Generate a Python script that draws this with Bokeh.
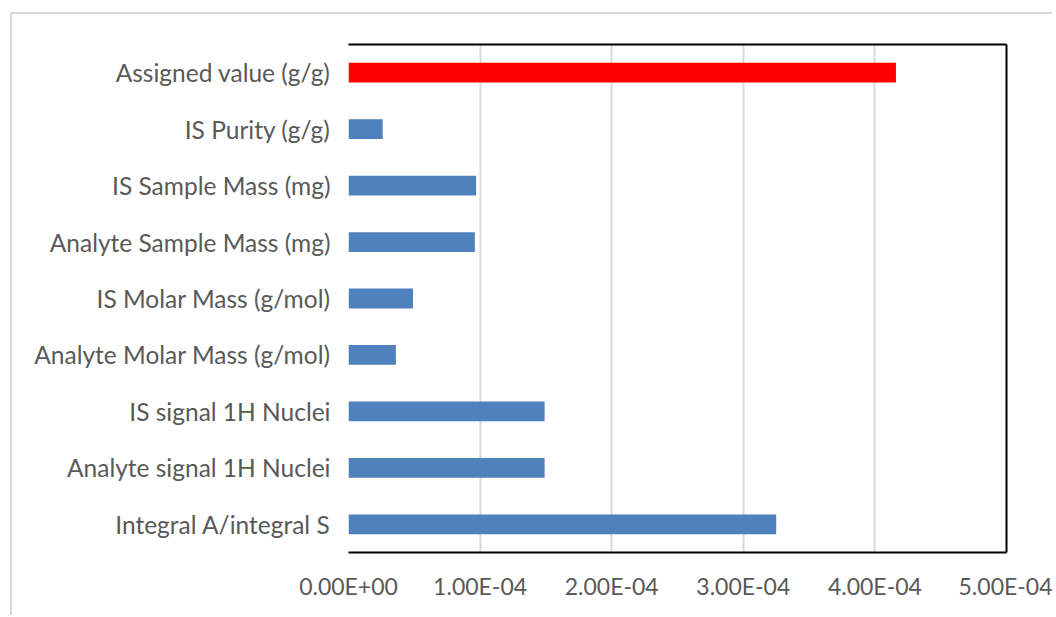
from bokeh.plotting import figure
from bokeh.models import FactorRange, FixedTicker, LinearAxis, CategoricalAxis, ColumnDataSource
from bokeh.embed import file_html
from bokeh.resources import INLINE

# Data (top to bottom as in the chart)
categories = [
    "Assigned value (g/g)",
    "IS Purity (g/g)",
    "IS Sample Mass (mg)",
    "Analyte Sample Mass (mg)",
    "IS Molar Mass (g/mol)",
    "Analyte Molar Mass (g/mol)",
    "IS signal 1H Nuclei",
    "Analyte signal 1H Nuclei",
    "Integral A/integral S",
]
values = [4.16e-4, 2.6e-5, 9.7e-5, 9.6e-5, 4.9e-5, 3.6e-5, 1.49e-4, 1.49e-4, 3.25e-4]
colors = ["#FF0000"] + ["#4F81BD"] * 8
tick_values = [0.0, 1e-4, 2e-4, 3e-4, 4e-4, 5e-4]
tick_labels = ["0.00E+00", "1.00E-04", "2.00E-04", "3.00E-04", "4.00E-04", "5.00E-04"]

FONT = "Lato"
TXT = "#595959"
GRID = "#d9d9d9"

factors = list(reversed(categories))
src = ColumnDataSource(dict(cat=categories, val=values, color=colors))

p = figure(
    y_range=FactorRange(factors=factors, range_padding=0),
    x_range=(0, 5e-4),
    frame_width=658, frame_height=508,
    min_border_left=336, min_border_right=46, min_border_top=30, min_border_bottom=63,
    output_backend="svg", toolbar_location=None,
    background_fill_color="white", border_fill_color="white",
)
p.outline_line_color = None
p.margin = (12, 0, 0, 10)
p.styles = {"border-top": "2px solid #d9d9d9", "border-left": "2px solid #d9d9d9"}

p.hbar(y="cat", right="val", left=0, height=0.35, color="color", line_color=None, source=src)

# x axis (bottom)
xa = p.xaxis[0]
xa.ticker = FixedTicker(ticks=tick_values)
xa.major_label_overrides = {t: l for t, l in zip(tick_values, tick_labels)}
xa.axis_line_color = "black"
xa.axis_line_width = 2
xa.major_tick_line_color = None
xa.minor_tick_line_color = None
xa.major_tick_out = 0
xa.major_tick_in = 0
xa.major_label_standoff = 19
xa.major_label_text_font = FONT
xa.major_label_text_font_size = "23px"
xa.major_label_text_color = TXT

# y axis (left)
ya = p.yaxis[0]
ya.axis_line_color = None
ya.major_tick_line_color = None
ya.minor_tick_line_color = None
ya.major_tick_out = 0
ya.major_tick_in = 0
ya.major_label_standoff = 18
ya.major_label_text_font = FONT
ya.major_label_text_font_size = "24.5px"
ya.major_label_text_color = TXT

# frame lines top & right
top = LinearAxis(ticker=FixedTicker(ticks=[]), axis_line_color="black", axis_line_width=2,
                 major_label_text_font_size="0px", major_tick_line_color=None,
                 minor_tick_line_color=None)
p.add_layout(top, "above")
right = CategoricalAxis(axis_line_color="black", axis_line_width=2,
                        major_label_text_font_size="0px", major_tick_line_color=None,
                        minor_tick_line_color=None, major_label_text_color=None)
p.add_layout(right, "right")

p.xgrid.ticker = FixedTicker(ticks=tick_values)
p.xgrid.grid_line_color = GRID
p.xgrid.grid_line_width = 2
p.ygrid.grid_line_color = None

open("out.html", "w").write(file_html(p, INLINE))
